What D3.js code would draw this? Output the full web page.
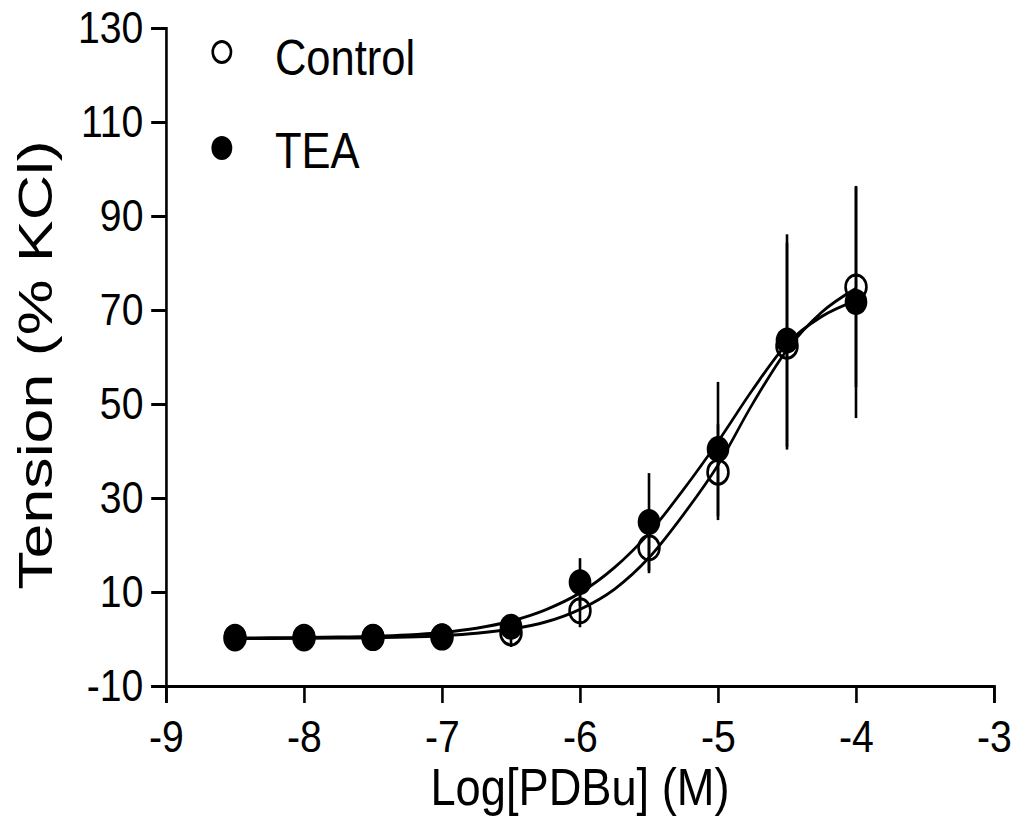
<!DOCTYPE html>
<html>
<head>
<meta charset="utf-8">
<script src="https://cdn.jsdelivr.net/npm/d3@7"></script>
<style>
    body { margin: 0; background: #fff; }
    text { font-family: "Liberation Sans", Arial, sans-serif; fill: #000; }
</style>
</head>
<body>
<svg id="chart" width="1018" height="829"></svg>
<script>
// measured points (mean, error)
const logDose = [-8.5, -8, -7.5, -7, -6.5, -6, -5.5, -5, -4.5, -4];
const controlMean = [0.2, 0.2, 0.3, 0.4, 1.3, 6.0, 19.4, 35.5, 62.3, 74.9];
const controlErr = [0.3, 0.3, 0.3, 0.4, 3.0, 3.5, 5.4, 10.2, 22.0, 21.3];
const teaMean = [0.5, 0.5, 0.5, 0.6, 2.6, 12.1, 24.9, 40.4, 63.5, 71.7];
const teaErr = [0.3, 0.3, 0.3, 0.4, 1.0, 5.1, 10.4, 14.3, 22.6, 24.7];

// fitted curves
const fitX = [-8.5, -8.25, -8, -7.75, -7.5, -7.25, -7, -6.75, -6.5, -6.25, -6, -5.75, -5.5, -5.25, -5, -4.75, -4.5, -4.25, -4];
const controlFit = [0.1, 0.1, 0.15, 0.2, 0.25, 0.4, 0.7, 1.2, 2.1, 3.6, 6.3, 10.6, 17.3, 26.5, 37.0, 50.0, 61.5, 69.5, 74.6];
const teaFit = [0.2, 0.25, 0.3, 0.4, 0.55, 0.85, 1.4, 2.3, 3.8, 6.2, 9.8, 15.2, 22.5, 31.8, 42.0, 53.0, 62.8, 68.6, 72.0];

const xTicks = [-9, -8, -7, -6, -5, -4, -3];
const yTicks = [-10, 10, 30, 50, 70, 90, 110, 130];
const seriesNames = ["Control", "TEA"];

// the figure is squeezed horizontally, so draw in a wider space and scale x
const sx = 0.87;
const W = 1018 / sx;
const H = 829;
const margin = { top: 28, right: W - 994 / sx, bottom: H - 686, left: 166 / sx };

const svg = d3.select("#chart");
const root = svg.append("g").attr("transform", `scale(${sx},1)`);

const xScale = d3.scaleLinear().domain([-9, -3]).range([margin.left, W - margin.right]);
const yScale = d3.scaleLinear().domain([-10, 130]).range([H - margin.bottom, margin.top]);

const xAxis = root.append("g")
    .attr("transform", `translate(0,${yScale(-10)})`)
    .call(d3.axisBottom(xScale).tickValues(xTicks).tickFormat(d => String(d))
        .tickSize(17).tickSizeOuter(17).tickPadding(17));
const yAxis = root.append("g")
    .attr("transform", `translate(${xScale(-9)},0)`)
    .call(d3.axisLeft(yScale).tickValues(yTicks).tickFormat(d => String(d))
        .tickSize(17).tickSizeOuter(17).tickPadding(9));

root.selectAll(".domain, .tick line").attr("stroke", "#000").attr("stroke-width", 3);
xAxis.selectAll("text").attr("font-size", 45).attr("font-family", "Liberation Sans, Arial, sans-serif");
yAxis.selectAll("text").attr("font-size", 45).attr("font-family", "Liberation Sans, Arial, sans-serif");

// fit lines
const line = d3.line()
    .x(d => xScale(d[0]))
    .y(d => yScale(d[1]))
    .curve(d3.curveMonotoneX);

[controlFit, teaFit].forEach(fit => {
    root.append("path")
        .datum(fitX.map((x, i) => [x, fit[i]]))
        .attr("d", line)
        .attr("fill", "none")
        .attr("stroke", "#000")
        .attr("stroke-width", 3);
});

const controlData = logDose.map((x, i) => ({ x, y: controlMean[i], e: controlErr[i] }));
const teaData = logDose.map((x, i) => ({ x, y: teaMean[i], e: teaErr[i] }));

// error bars
[controlData, teaData].forEach(data => {
    root.append("g").selectAll("line")
        .data(data)
        .join("line")
        .attr("x1", d => xScale(d.x))
        .attr("x2", d => xScale(d.x))
        .attr("y1", d => yScale(d.y - d.e))
        .attr("y2", d => yScale(d.y + d.e))
        .attr("stroke", "#000")
        .attr("stroke-width", 3);
});

root.append("g").selectAll("circle")
    .data(controlData)
    .join("circle")
    .attr("cx", d => xScale(d.x))
    .attr("cy", d => yScale(d.y))
    .attr("r", 12)
    .attr("fill", "none")
    .attr("stroke", "#000")
    .attr("stroke-width", 3);

root.append("g").selectAll("circle")
    .data(teaData)
    .join("circle")
    .attr("cx", d => xScale(d.x))
    .attr("cy", d => yScale(d.y))
    .attr("r", 13)
    .attr("fill", "#000");

// legend
const legend = root.append("g");
legend.append("circle")
    .attr("cx", 255).attr("cy", 52).attr("r", 10.5)
    .attr("fill", "none").attr("stroke", "#000").attr("stroke-width", 3);
legend.append("circle")
    .attr("cx", 255).attr("cy", 148).attr("r", 12)
    .attr("fill", "#000");
legend.selectAll("text")
    .data(seriesNames)
    .join("text")
    .attr("x", 316)
    .attr("y", (d, i) => i === 0 ? 75 : 168)
    .attr("font-size", 50)
    .text(d => d);

// axis titles
root.append("text")
    .attr("x", (xScale.range()[0] + xScale.range()[1]) / 2)
    .attr("y", 805)
    .attr("text-anchor", "middle")
    .attr("font-size", 52)
    .text("Log[PDBu] (M)");

root.append("text")
    .attr("transform", `translate(60,${(yScale.range()[0] + yScale.range()[1]) / 2 + 8}) rotate(-90) scale(1.12,1)`)
    .attr("text-anchor", "middle")
    .attr("font-size", 56)
    .text("Tension (% KCl)");
</script>
</body>
</html>
